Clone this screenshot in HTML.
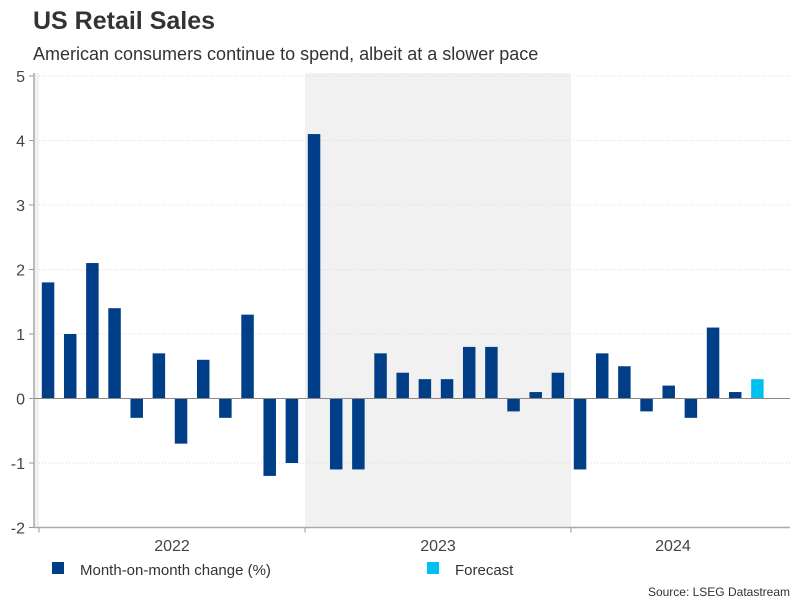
<!DOCTYPE html>
<html><head><meta charset="utf-8"><style>
body{margin:0;width:801px;height:601px;background:#fff;font-family:"Liberation Sans",sans-serif;overflow:hidden}
</style></head><body>
<svg width="801" height="601" font-family="Liberation Sans, sans-serif">
<text x="33" y="29" font-size="25" font-weight="bold" fill="#333">US Retail Sales</text>
<text x="33" y="60" font-size="18" fill="#333">American consumers continue to spend, albeit at a slower pace</text>
<g id="plot"></g>
<rect x="52" y="562" width="12" height="12" fill="#003f87"/>
<text x="80" y="575" font-size="15" fill="#333">Month-on-month change (%)</text>
<rect x="427" y="562" width="12" height="12" fill="#00c0f0"/>
<text x="455" y="575" font-size="15" fill="#333">Forecast</text>
<text x="790" y="596" font-size="12" fill="#333" text-anchor="end">Source: LSEG Datastream</text>
</svg>
<script>
const values = [1.8,1.0,2.1,1.4,-0.3,0.7,-0.7,0.6,-0.3,1.3,-1.2,-1.0,
4.1,-1.1,-1.1,0.7,0.4,0.3,0.3,0.8,0.8,-0.2,0.1,0.4,
-1.1,0.7,0.5,-0.2,0.2,-0.3,1.1,0.1];
const forecast = [0.3];
const years = ["2022","2023","2024"];
const yTicks = [-2,-1,0,1,2,3,4,5];
const NS="http://www.w3.org/2000/svg";
const g=document.getElementById('plot');
const x0=39, mw=266/12, zeroY=398.5, k=64.5;
const xs=i=>x0+i*mw;
const ys=v=>zeroY-v*k;
function mk(t,a){const e=document.createElementNS(NS,t);for(const n in a)e.setAttribute(n,a[n]);g.appendChild(e);return e;}
let r=mk('rect',{x:x0+12*mw,y:ys(5)-3,width:12*mw,height:ys(-2)-ys(5)+3,fill:'#f1f1f1'});


r=mk('rect',{x:34,y:ys(5)-3,width:5,height:ys(-2)-ys(5)+3,fill:'#f1f1f1'});


yTicks.forEach(v=>{
  if(v!==0&&v!==-2){const l=mk('line',{x1:39,x2:790,y1:ys(v),y2:ys(v),stroke:'#ddd','stroke-dasharray':'1,2'});
  
  }
  const t=mk('text',{x:25,y:ys(v)+6,'font-size':16,fill:'#444','text-anchor':'end'});t.textContent=v;
  
  
  const tk=mk('line',{x1:29,x2:34,y1:ys(v),y2:ys(v),stroke:'#999'});
  
  
});
const all=values.concat(forecast);
all.forEach((v,i)=>{
  const y=Math.min(ys(v),zeroY),h=Math.abs(ys(v)-zeroY);
  const b=mk('rect',{x:xs(i)+2.8,y:y,width:12.5,height:h,fill:i>=values.length?'#00c0f0':'#003f87'});
  
  
});
let z=mk('line',{x1:34,x2:790,y1:zeroY,y2:zeroY,stroke:'#888'});


let ya=mk('line',{x1:34,x2:34,y1:ys(5)-3,y2:ys(-2),stroke:'#aaa','stroke-width':1.5});


let xa=mk('line',{x1:34,x2:790,y1:ys(-2),y2:ys(-2),stroke:'#aaa','stroke-width':1.5});


const labelCenters=[6,6,4.6];
years.forEach((yr,j)=>{
  const tk=mk('line',{x1:xs(j*12),x2:xs(j*12),y1:ys(-2),y2:ys(-2)+5,stroke:'#999'});
  
  
  const t=mk('text',{x:xs(j*12+labelCenters[j]),y:551,'font-size':16,fill:'#444','text-anchor':'middle'});t.textContent=yr;
  
  
});
</script>
</body></html>
